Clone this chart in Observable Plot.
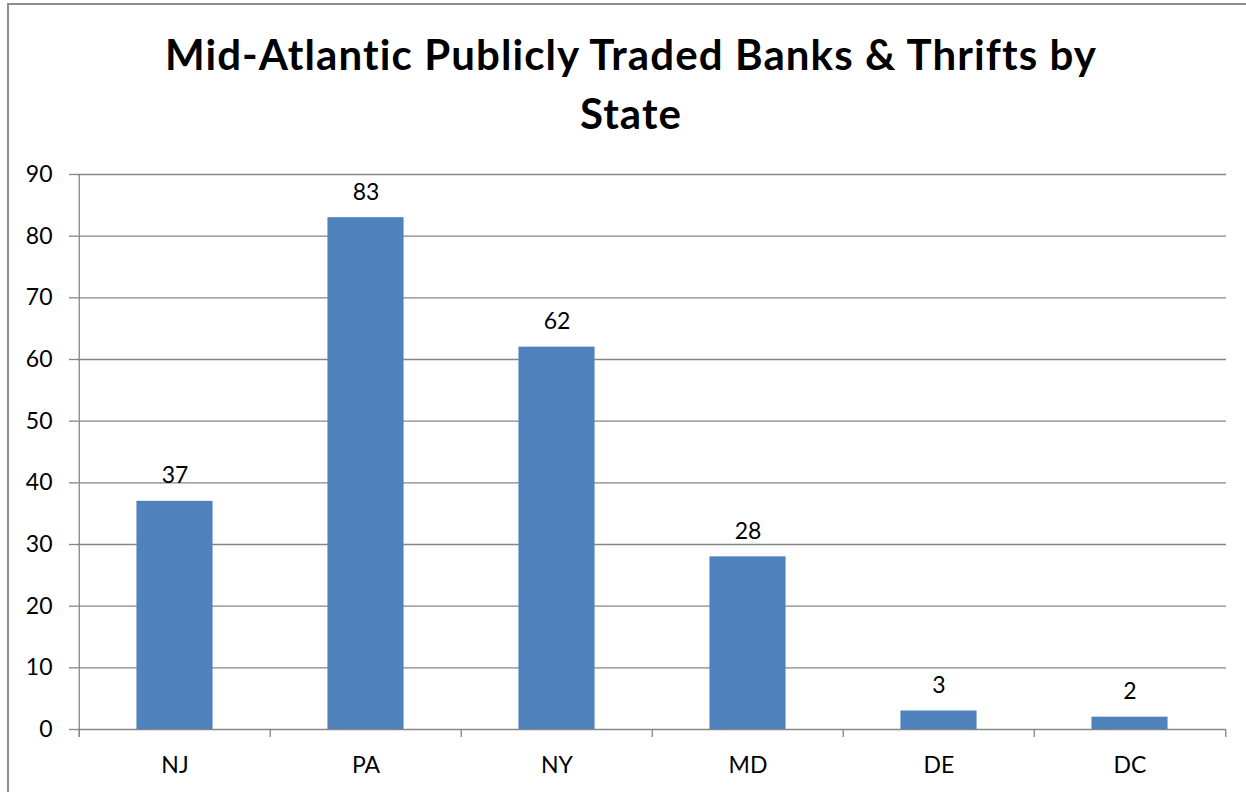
<!DOCTYPE html>
<html>
<head>
<meta charset="utf-8">
<script src="https://cdn.jsdelivr.net/npm/d3@7"></script>
<script src="https://cdn.jsdelivr.net/npm/@observablehq/plot@0.6"></script>
<style>
  html, body { margin: 0; padding: 0; background: #fff; }
  body { width: 1246px; height: 792px; position: relative; overflow: hidden; font-family: Lato, "Open Sans", sans-serif; }
  #frame { position: absolute; left: 7px; top: 3px; width: 1300px; height: 900px; border-left: 2px solid #8c8c8c; border-top: 2px solid #8c8c8c; box-sizing: border-box; }
  #title { position: absolute; left: 0; top: 25px; width: 1262px; text-align: center; font-weight: 700; font-size: 42px; letter-spacing: 1.1px; line-height: 59px; color: #000; }
  #chart { position: absolute; left: 0; top: 0; }
</style>
</head>
<body>
<div id="frame"></div>
<div id="chart"></div>
<div id="title">Mid-Atlantic Publicly Traded Banks &amp; Thrifts by<br>State</div>
<script>
const states = ["NJ", "PA", "NY", "MD", "DE", "DC"];
const counts = [37, 83, 62, 28, 3, 2];
const yTicks = [0, 10, 20, 30, 40, 50, 60, 70, 80, 90];

const data = states.map((s, i) => ({state: s, count: counts[i]}));

const W = 1246, H = 792;
const mL = 77, mR = 20, mT = 174, mB = 63;
const bw = (W - mL - mR) / states.length;
const gray = "#868686";
const font = "Lato, 'Open Sans', sans-serif";

const chart = Plot.plot({
  width: W,
  height: H,
  marginLeft: mL,
  marginRight: mR,
  marginTop: mT,
  marginBottom: mB,
  style: {fontFamily: font, fontSize: "23px", color: "#000", background: "transparent"},
  x: {domain: states, padding: 0, label: null},
  y: {domain: [0, 90], label: null},
  marks: [
    Plot.gridY(yTicks, {stroke: gray, strokeOpacity: 1, strokeWidth: 1.3}),
    Plot.axisY(yTicks, {tickSize: 8, tickPadding: 17, stroke: gray, strokeWidth: 1.3, fontSize: 23, fill: "#000"}),
    Plot.axisX({tickSize: 0, tickPadding: 27, fontSize: 23, fill: "#000"}),
    Plot.barY(data, {x: "state", y: "count", fill: "#4F81BD", insetLeft: bw * 0.3, insetRight: bw * 0.3}),
    Plot.ruleX([states[0]], {dx: -bw / 2, stroke: gray, strokeWidth: 1.3, insetBottom: -8}),
    Plot.ruleX(states, {dx: -bw / 2, y1: 0, y2: 0, insetBottom: -8, stroke: gray, strokeWidth: 1.3}),
    Plot.ruleX([states[states.length - 1]], {dx: bw / 2, y1: 0, y2: 0, insetBottom: -8, stroke: gray, strokeWidth: 1.3}),
    Plot.text(data, {x: "state", y: "count", text: d => String(d.count), lineAnchor: "bottom", dy: -18, fontSize: 23, fill: "#000"})
  ]
});
document.getElementById("chart").appendChild(chart);
</script>
</body>
</html>
